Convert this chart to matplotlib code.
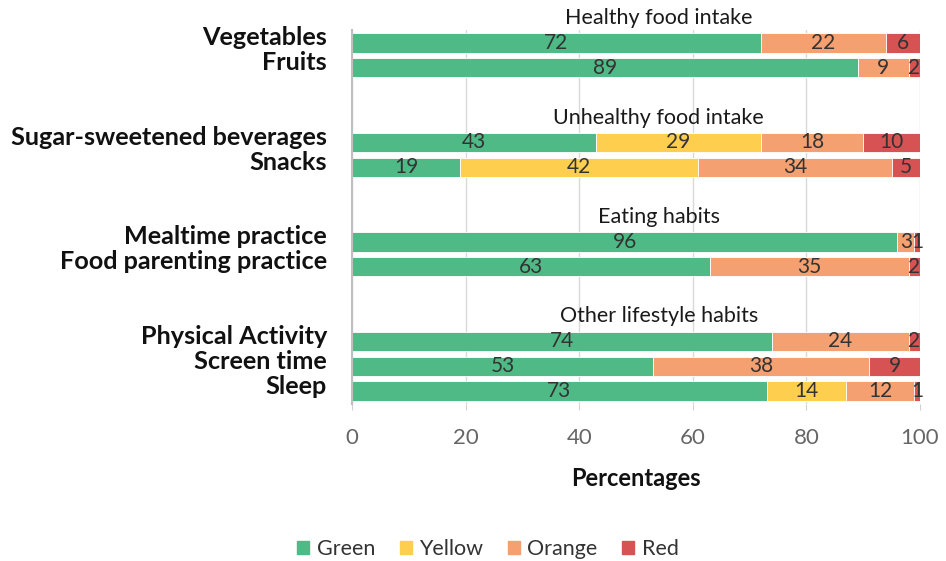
import matplotlib.pyplot as plt
from matplotlib.transforms import ScaledTranslation, blended_transform_factory
from matplotlib.patches import Patch

plt.rcParams['font.family'] = ['Lato', 'DejaVu Sans']

groups = ["Healthy food intake", "Unhealthy food intake", "Eating habits", "Other lifestyle habits"]
group_items = [
    ["Vegetables", "Fruits"],
    ["Sugar-sweetened beverages", "Snacks"],
    ["Mealtime practice", "Food parenting practice"],
    ["Physical Activity", "Screen time", "Sleep"],
]
series_names = ["Green", "Yellow", "Orange", "Red"]
green = [72, 89, 43, 19, 96, 63, 74, 53, 73]
yellow = [0, 0, 29, 42, 0, 0, 0, 0, 14]
orange = [22, 9, 18, 34, 3, 35, 24, 38, 12]
red = [6, 2, 10, 5, 1, 2, 2, 9, 1]
x_ticks = [0, 20, 40, 60, 80, 100]

colors = ["#4fba86", "#fecf4f", "#f4a070", "#d75353"]

# each group takes a title slot, then one slot per item, then a blank slot
title_pos, item_pos, labels = [], [], []
slot = 0
for g, items in zip(groups, group_items):
    title_pos.append(slot)
    for it in items:
        slot += 1
        item_pos.append(slot)
        labels.append(it)
    slot += 2

fig = plt.figure(figsize=(9.46, 5.61), dpi=100)
ax = fig.add_axes([352 / 946, 1 - 404 / 561, (920 - 352) / 946, (404 - 30) / 561])

down = ScaledTranslation(0, -3 / 100, fig.dpi_scale_trans)
left = [0] * len(green)
for name, vals, col in zip(series_names, [green, yellow, orange, red], colors):
    bars = ax.barh(item_pos, vals, left=left, height=0.78, color=col,
                   edgecolor="white", linewidth=0.6, label=name, zorder=2)
    texts = ax.bar_label(bars, labels=[str(v) if v > 0 else "" for v in vals],
                         label_type="center", fontsize=15, color="#333333",
                         zorder=3, padding=0)
    for t in texts:
        t.set_transform(t.get_transform() + down)
    left = [a + b for a, b in zip(left, vals)]

for t, g in zip(title_pos, groups):
    ax.text(54, t, g, ha="center", va="center", fontsize=15.5, color="#1a1a1a",
            clip_on=False, zorder=4)

# row labels sit a little above their bars
lab_tr = blended_transform_factory(ax.transAxes, ax.transData) + \
    ScaledTranslation(0, 5 / 100, fig.dpi_scale_trans)
for p, lab in zip(item_pos, labels):
    ax.text(-25 / 568, p, lab, ha="right", va="center", fontsize=18.2,
            fontweight="bold", color="#111111", transform=lab_tr, clip_on=False)

ax.set_xlim(0, 100)
ax.set_ylim(item_pos[-1] + 0.52, 0.48)
ax.set_yticks([])
ax.set_xticks(x_ticks)
ax.tick_params(axis="x", length=4, color="#d0d0d0", labelsize=16,
               labelcolor="#666666", pad=13)
ax.grid(axis="x", color="#d9d9d9", linewidth=1, zorder=0)
for s in ["top", "right", "bottom"]:
    ax.spines[s].set_visible(False)
ax.spines["left"].set_color("#bfbfbf")
ax.spines["left"].set_linewidth(1.5)
ax.set_xlabel("Percentages", fontsize=17, fontweight="bold", color="#111111",
              labelpad=14)

handles = [Patch(color=c, label=n) for c, n in zip(colors, series_names)]
fig.legend(handles=handles, loc="center", bbox_to_anchor=(488 / 946, 1 - 549 / 561),
           ncol=4, frameon=False, fontsize=15.5, handlelength=0.55, handleheight=0.55,
           handletextpad=0.35, columnspacing=1.15, labelcolor="#333333")

fig.savefig("out.png", dpi=100)
